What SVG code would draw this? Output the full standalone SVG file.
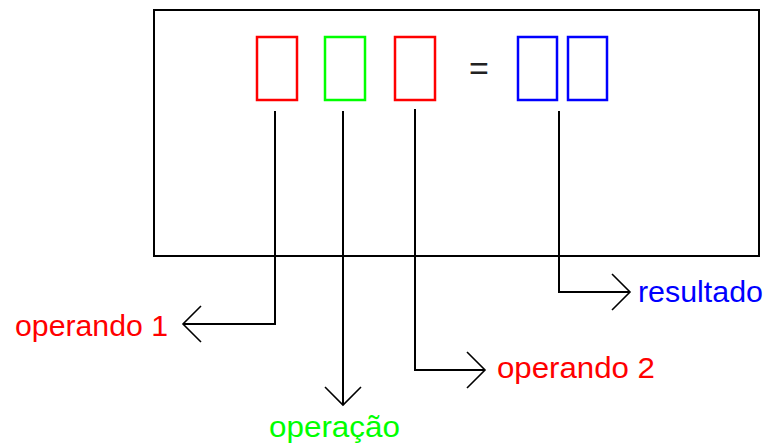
<svg xmlns="http://www.w3.org/2000/svg" width="766" height="443" viewBox="0 0 766 443">
<style>
.frame{fill:none;stroke:#000;stroke-width:2}
.cell{fill:none;stroke-width:2.5}
.red{stroke:#ff0000}
.green{stroke:#00ff00}
.blue{stroke:#0000ff}
.conn{fill:none;stroke:#000;stroke-width:2}
.head{fill:none;stroke:#000;stroke-width:1.6}
.lbl{font-family:"Liberation Sans",Arial,sans-serif;font-size:30px}
</style>
<rect width="766" height="443" fill="#fff"/>
<g id="frame">
<rect class="frame" x="154" y="10" width="605" height="246"/>
</g>
<g id="operand1-cell"><rect class="cell red" x="257" y="37" width="40" height="63"/></g>
<g id="operation-cell"><rect class="cell green" x="325" y="37" width="40" height="63"/></g>
<g id="operand2-cell"><rect class="cell red" x="395" y="37" width="40" height="63"/></g>
<g id="equals"><text x="479" y="80" text-anchor="middle" fill="#222" font-family="Liberation Sans, Arial, sans-serif" font-size="34">=</text></g>
<g id="result-cells">
<rect class="cell blue" x="518" y="37" width="39" height="63"/>
<rect class="cell blue" x="568" y="37" width="39" height="63"/>
</g>
<g id="connectors">
<path class="conn" d="M275,111 V324 H184"/>
<path class="head" d="M201,306 L183,324 L201,342"/>
<path class="conn" d="M343,111 V404"/>
<path class="head" d="M325,387 L343,405 L361,387"/>
<path class="conn" d="M415,109 V370 H484"/>
<path class="head" d="M467,352 L485,370 L467,388"/>
<path class="conn" d="M559,111 V292 H629"/>
<path class="head" d="M612,274 L630,292 L612,310"/>
</g>
<g id="label-operand1"><text class="lbl" x="15" y="336" fill="#ff0000" textLength="153" lengthAdjust="spacingAndGlyphs">operando 1</text></g>
<g id="label-operation"><text class="lbl" x="269" y="437" fill="#00ff00" textLength="131" lengthAdjust="spacingAndGlyphs">operação</text></g>
<g id="label-operand2"><text class="lbl" x="497" y="378" fill="#ff0000" textLength="158" lengthAdjust="spacingAndGlyphs">operando 2</text></g>
<g id="label-result"><text class="lbl" x="638" y="302" fill="#0000ff" textLength="125" lengthAdjust="spacingAndGlyphs">resultado</text></g>
</svg>
